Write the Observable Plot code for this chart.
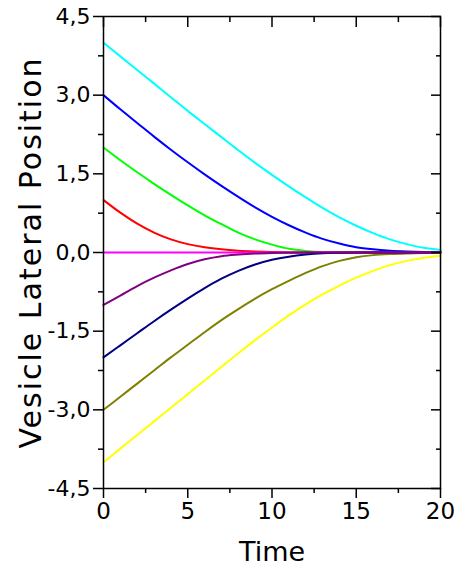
<!DOCTYPE html>
<html><head><meta charset="utf-8">
<script src="https://cdn.jsdelivr.net/npm/d3@7"></script>
<script src="https://cdn.jsdelivr.net/npm/@observablehq/plot@0.6"></script>
<style>body{margin:0;background:#fff}#chart{width:458px;height:570px}</style>
</head><body><div id="chart"></div>
<script>
const time    = [0,1,2,3,4,5,6,7,8,9,10,11,12,13,14,15,16,17,18,19,20];
const start4  = [4.0,3.74,3.48,3.22,2.96,2.70,2.45,2.20,1.95,1.71,1.48,1.26,1.05,0.85,0.67,0.51,0.37,0.25,0.16,0.09,0.05];
const start3  = [3.0,2.73,2.47,2.21,1.96,1.72,1.49,1.27,1.06,0.86,0.68,0.52,0.38,0.26,0.17,0.10,0.06,0.035,0.02,0.01,0.005];
const start2  = [2.0,1.76,1.53,1.31,1.10,0.90,0.71,0.54,0.38,0.25,0.15,0.07,0.03,0.01,0.005,0,0,0,0,0,0];
const start1  = [1.0,0.76,0.55,0.38,0.25,0.16,0.10,0.06,0.035,0.02,0.01,0.005,0,0,0,0,0,0,0,0,0];
const start0  = [0,0,0,0,0,0,0,0,0,0,0,0,0,0,0,0,0,0,0,0,0];
const startM1 = [-1.0,-0.82,-0.64,-0.48,-0.34,-0.22,-0.13,-0.07,-0.04,-0.02,-0.01,-0.005,0,0,0,0,0,0,0,0,0];
const startM2 = [-2.0,-1.77,-1.54,-1.31,-1.09,-0.88,-0.68,-0.50,-0.35,-0.23,-0.14,-0.08,-0.04,-0.015,-0.005,0,0,0,0,0,0];
const startM3 = [-3.0,-2.75,-2.50,-2.25,-2.0,-1.76,-1.52,-1.29,-1.08,-0.88,-0.70,-0.54,-0.39,-0.26,-0.16,-0.09,-0.05,-0.03,-0.02,-0.01,0];
const startM4 = [-4.0,-3.74,-3.48,-3.22,-2.96,-2.70,-2.44,-2.18,-1.92,-1.67,-1.43,-1.20,-0.99,-0.80,-0.63,-0.48,-0.35,-0.24,-0.16,-0.10,-0.06];

const seriesNames  = ["-4","-3","4","3","2","1","0","-2","-1"];
const seriesValues = [startM4,startM3,start4,start3,start2,start1,start0,startM2,startM1];
const seriesColors = ["#ffff00","#808000","#00ffff","#0000ff","#00ff00","#ff0000","#ff00ff","#000080","#800080"];

const yMajor = [-4.5,-3,-1.5,0,1.5,3,4.5];
const yMinor = [-3.75,-2.25,-0.75,0.75,2.25,3.75];
const xMajor = [0,5,10,15,20];
const xMinor = [2.5,7.5,12.5,17.5];

const rows = [];
seriesNames.forEach((name, i) => {
  time.forEach((t, j) => rows.push({series: name, t, v: seriesValues[i][j]}));
});

const font = "DejaVu Sans";
const fmt = d => d.toFixed(1).replace(".", ",");

const chart = Plot.plot({
  width: 458, height: 570,
  marginLeft: 103, marginRight: 18, marginTop: 16, marginBottom: 82,
  style: {fontFamily: font, background: "#fff", color: "#000"},
  x: {domain: [0, 20]},
  y: {domain: [-4.5, 4.5]},
  color: {domain: seriesNames, range: seriesColors},
  marks: [
    Plot.line(rows, {x: "t", y: "v", z: "series", stroke: "series", strokeWidth: 2, curve: "monotone-x"}),
    Plot.frame({stroke: "#000", strokeWidth: 1.5}),
    Plot.axisY(yMajor, {anchor: "left", tickSize: 10, tickPadding: 3, tickFormat: fmt, fontSize: 22, label: null, strokeWidth: 1.5}),
    Plot.axisY(yMinor, {anchor: "left", tickSize: 5, fill: "none", label: null, strokeWidth: 1.5}),
    Plot.axisY(yMajor, {anchor: "right", tickSize: -10, fill: "none", label: null, strokeWidth: 1.5}),
    Plot.axisY(yMinor, {anchor: "right", tickSize: -5, fill: "none", label: null, strokeWidth: 1.5}),
    Plot.axisX(xMajor, {anchor: "bottom", tickSize: 10, tickPadding: 4, tickFormat: d => String(d), fontSize: 23, label: null, strokeWidth: 1.5}),
    Plot.axisX(xMinor, {anchor: "bottom", tickSize: 5, fill: "none", label: null, strokeWidth: 1.5}),
    Plot.axisX(xMajor, {anchor: "top", tickSize: -10, fill: "none", label: null, strokeWidth: 1.5}),
    Plot.axisX(xMinor, {anchor: "top", tickSize: -5, fill: "none", label: null, strokeWidth: 1.5}),
    Plot.text(["Vesicle Lateral Position"], {frameAnchor: "left", textAnchor: "middle", rotate: -90, dx: -72, fontSize: 30, fill: "#000"}),
    Plot.text(["Time"], {frameAnchor: "bottom", textAnchor: "middle", dy: 72, fontSize: 27, fill: "#000"})
  ]
});
chart.querySelectorAll("text").forEach(t => {
  if (t.textContent === "Vesicle Lateral Position") t.style.letterSpacing = "2px";
});
document.getElementById("chart").append(chart);
</script>
</body></html>
